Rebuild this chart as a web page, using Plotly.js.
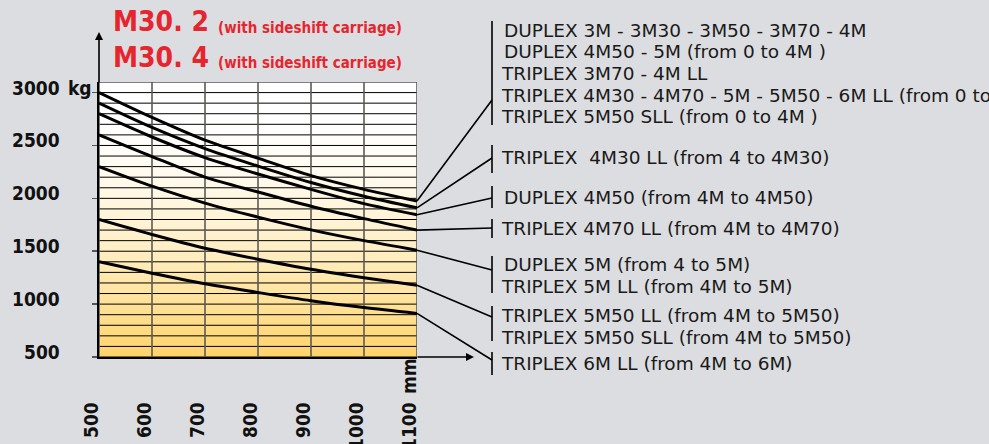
<!DOCTYPE html>
<html>
<head>
<meta charset="utf-8">
<script src="https://cdn.plot.ly/plotly-3.0.1.min.js"></script>
<style>html,body{margin:0;padding:0;background:#dcdde0;}#chart{width:989px;height:444px;}</style>
</head>
<body>
<div id="chart"></div>
<script>
// ---------- DATA ----------
const xValues = [500, 600, 700, 800, 900, 1000, 1100];           // load centre (mm)
const curveA = [3000, 2765, 2550, 2380, 2215, 2085, 1975];        // kg
const curveB = [2900, 2670, 2470, 2305, 2150, 2020, 1910];
const curveC = [2800, 2580, 2385, 2230, 2085, 1950, 1845];
const curveD = [2600, 2395, 2200, 2060, 1925, 1808, 1700];
const curveE = [2300, 2115, 1955, 1822, 1702, 1600, 1510];
const curveF = [1800, 1658, 1528, 1425, 1330, 1250, 1178];
const curveG = [1400, 1292, 1192, 1110, 1032, 967, 912];

const xTickVals = [500, 600, 700, 800, 900, 1000, 1100];
const xTickText = ['500', '600', '700', '800', '900', '1000', '1100'];
const xUnit = 'mm';
const yTickVals = [500, 1000, 1500, 2000, 2500, 3000];
const yTickText = ['500', '1000', '1500', '2000', '2500', '3000'];
const yUnit = 'kg';
const xRange = [500, 1100];
const yRange = [500, 3100];

const titleMain = ['M30. 2', 'M30. 4'];
const titleSub = '(with sideshift carriage)';

const legendGroup1 = ['DUPLEX 3M - 3M30 - 3M50 - 3M70 - 4M', 'DUPLEX 4M50 - 5M (from 0 to 4M )', 'TRIPLEX 3M70 - 4M LL', 'TRIPLEX 4M30 - 4M70 - 5M - 5M50 - 6M LL (from 0 to 4M )', 'TRIPLEX 5M50 SLL (from 0 to 4M )'];
const legendGroup2 = ['TRIPLEX\u00a0 4M30 LL (from 4 to 4M30)'];
const legendGroup3 = ['DUPLEX 4M50 (from 4M to 4M50)'];
const legendGroup4 = ['TRIPLEX 4M70 LL (from 4M to 4M70)'];
const legendGroup5 = ['DUPLEX 5M (from 4 to 5M)', 'TRIPLEX 5M LL (from 4M to 5M)'];
const legendGroup6 = ['TRIPLEX 5M50 LL (from 4M to 5M50)', 'TRIPLEX 5M50 SLL (from 4M to 5M50)'];
const legendGroup7 = ['TRIPLEX 6M LL (from 4M to 6M)'];

// ---------- LAYOUT HELPERS ----------
const W = 989, H = 444;
const M = {l: 99, r: 572, t: 82, b: 87};
const PW = W - M.l - M.r, PH = H - M.t - M.b;
const pxX = p => (p - M.l) / PW;
const pxY = p => (H - M.b - p) / PH;
const valY = v => (v - yRange[0]) / (yRange[1] - yRange[0]);

const COND = 'DejaVu Sans Condensed, DejaVu Sans, sans-serif';
const TICKFONT = {family: COND, size: 19, color: '#111', weight: 'bold'};
const LEGFONT = {family: 'DejaVu Sans, sans-serif', size: 18.5, color: '#1a1a1a'};
const RED = '#e5262f';

// ---------- TRACES ----------
const traces = [];
// background gradient panel
traces.push({
  x: [xRange[0], xRange[1], xRange[1], xRange[0], xRange[0]],
  y: [yRange[0], yRange[0], yRange[1], yRange[1], yRange[0]],
  mode: 'lines', fill: 'toself', line: {width: 0},
  fillgradient: {type: 'vertical', start: yRange[0], stop: yRange[1],
    colorscale: [[0, '#ffd36a'], [0.2, '#ffe29a'], [0.4, '#ffefc6'], [0.6, '#fff8e6'], [0.75, '#fffdf7'], [0.85, '#ffffff'], [1, '#ffffff']]},
  hoverinfo: 'skip', showlegend: false
});
// grid lines (horizontal every 100 kg, vertical every 100 mm)
const hx = [], hy = [];
for (let v = yRange[0]; v <= yRange[1]; v += 100) { hx.push(xRange[0], xRange[1], null); hy.push(v, v, null); }
traces.push({x: hx, y: hy, mode: 'lines', line: {color: '#000', width: 1}, hoverinfo: 'skip', showlegend: false});
const vx = [], vy = [];
xTickVals.forEach(v => { vx.push(v, v, null); vy.push(yRange[0], yRange[1], null); });
traces.push({x: vx, y: vy, mode: 'lines', line: {color: '#5c5a56', width: 1.6}, hoverinfo: 'skip', showlegend: false});

const curves = [curveA, curveB, curveC, curveD, curveE, curveF, curveG];
curves.forEach(c => traces.push({x: xValues, y: c, mode: 'lines', line: {color: '#000', width: 3, shape: 'spline', smoothing: 0.8}, hoverinfo: 'skip', showlegend: false}));

// ---------- ANNOTATIONS ----------
const ann = [];
yTickVals.forEach((v, i) => ann.push({xref: 'paper', yref: 'y', x: pxX(62), y: v, xanchor: 'right', yanchor: 'middle', yshift: 5, text: yTickText[i], showarrow: false, font: TICKFONT}));
ann.push({xref: 'paper', yref: 'y', x: pxX(66), y: yTickVals[yTickVals.length - 1], xanchor: 'left', yanchor: 'middle', yshift: 5, text: yUnit, showarrow: false, font: TICKFONT});
xTickVals.forEach((v, i) => ann.push({xref: 'x', yref: 'paper', x: v, y: pxY(400), xanchor: 'center', yanchor: 'top', xshift: -8, textangle: -90, text: xTickText[i], showarrow: false, font: TICKFONT}));
ann.push({xref: 'x', yref: 'paper', x: xTickVals[xTickVals.length - 1], y: pxY(396), xanchor: 'center', yanchor: 'bottom', xshift: -8, textangle: -90, text: xUnit, showarrow: false, font: TICKFONT});

// titles
titleMain.forEach((t, i) => {
  ann.push({xref: 'paper', yref: 'paper', x: pxX(111), y: pxY(22 + i * 35), xanchor: 'left', yanchor: 'middle', text: t, showarrow: false, font: {family: COND, size: 28, color: RED, weight: 'bold'}});
  ann.push({xref: 'paper', yref: 'paper', x: pxX(216), y: pxY(28.5 + i * 34.5), xanchor: 'left', yanchor: 'middle', text: titleSub, showarrow: false, font: {family: COND, size: 15, color: RED, weight: 'bold'}});
});

// axis arrows
ann.push({xref: 'paper', yref: 'paper', x: 0, y: pxY(32), ax: 0, ay: 52, text: '', showarrow: true, arrowhead: 2, arrowsize: 1, arrowwidth: 1.6, arrowcolor: '#000'});
ann.push({xref: 'paper', yref: 'paper', x: pxX(474), y: 0, ax: -58, ay: 0, text: '', showarrow: true, arrowhead: 2, arrowsize: 1, arrowwidth: 1.6, arrowcolor: '#000'});

// legend labels
const groups = [
  {lines: legendGroup1, ys: [31, 52, 73, 95, 116], bar: [21, 125], target: 100, curve: curveA},
  {lines: legendGroup2, ys: [157], bar: [145, 173], target: 158, curve: curveB},
  {lines: legendGroup3, ys: [197], bar: [186, 208], target: 198, curve: curveC},
  {lines: legendGroup4, ys: [228], bar: [219, 238], target: 228, curve: curveD},
  {lines: legendGroup5, ys: [264, 286], bar: [256, 293], target: 270, curve: curveE},
  {lines: legendGroup6, ys: [315, 337], bar: [306, 341], target: 317, curve: curveF},
  {lines: legendGroup7, ys: [363], bar: [352, 375], target: 360, curve: curveG}
];
const shapes = [];
const BARX = 492;
groups.forEach(g => {
  g.lines.forEach((t, i) => ann.push({xref: 'paper', yref: 'paper', x: pxX(t.startsWith('DUPLEX') ? 502 : 499), y: pxY(g.ys[i]), xanchor: 'left', yanchor: 'middle', text: t, showarrow: false, font: LEGFONT}));
  shapes.push({type: 'line', xref: 'paper', yref: 'paper', x0: pxX(BARX), x1: pxX(BARX), y0: pxY(g.bar[0]), y1: pxY(g.bar[1]), line: {color: '#000', width: 1.6}});
  shapes.push({type: 'line', xref: 'paper', yref: 'paper', x0: 1, y0: valY(g.curve[g.curve.length - 1]), x1: pxX(BARX), y1: pxY(g.target), line: {color: '#000', width: 1.6}});
});

const layout = {
  width: W, height: H, margin: M,
  paper_bgcolor: '#dcdde0', plot_bgcolor: 'rgba(0,0,0,0)',
  showlegend: false,
  xaxis: {range: xRange, showgrid: false, zeroline: false, showline: true, linecolor: '#000', linewidth: 2, showticklabels: false, ticks: '', fixedrange: true},
  yaxis: {range: yRange, showgrid: false, zeroline: false, showline: true, linecolor: '#000', linewidth: 2, tickvals: yTickVals, ticks: 'outside', ticklen: 5, tickcolor: '#555', tickwidth: 1.5, showticklabels: false, fixedrange: true},
  annotations: ann, shapes: shapes
};
Plotly.newPlot('chart', traces, layout, {staticPlot: true, displayModeBar: false});
</script>
</body>
</html>
